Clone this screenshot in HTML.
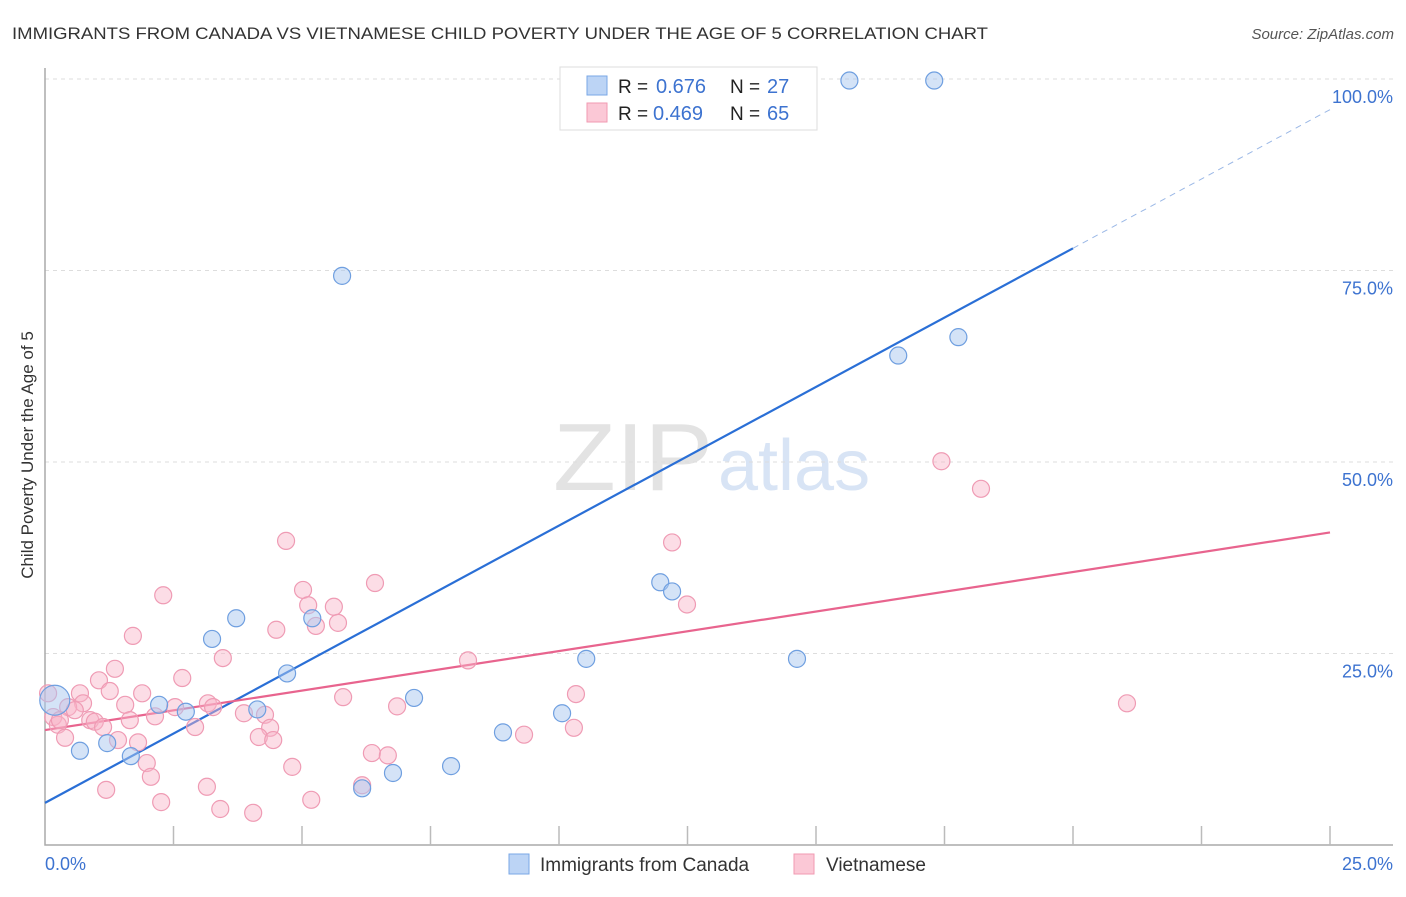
<!DOCTYPE html>
<html><head><meta charset="utf-8"><style>
body{margin:0;background:#fff;font-family:"Liberation Sans",sans-serif}
svg text{font-family:"Liberation Sans",sans-serif}
</style></head><body>
<svg id="chart" width="1406" height="892" viewBox="0 0 1406 892">
<text x="12" y="39" font-size="17" fill="#333" textLength="976" lengthAdjust="spacingAndGlyphs">IMMIGRANTS FROM CANADA VS VIETNAMESE CHILD POVERTY UNDER THE AGE OF 5 CORRELATION CHART</text>
<text x="1394" y="39" font-size="15" fill="#555" font-style="italic" text-anchor="end">Source: ZipAtlas.com</text>
<text transform="translate(33,455) rotate(-90)" font-size="17" fill="#333" text-anchor="middle">Child Poverty Under the Age of 5</text>
<g><text x="553" y="490" font-size="96" fill="#e3e3e3" font-family="Liberation Serif" textLength="160" lengthAdjust="spacingAndGlyphs">ZIP</text><text x="718" y="490" font-size="72" fill="#d8e4f5">atlas</text></g>
<g id="grid"></g><g id="axes"></g><g id="lines"></g><g id="pts"></g>
<g>
<rect x="560" y="67" width="257" height="63" fill="#fff" stroke="#ddd"/>
<rect x="587" y="76" width="20" height="19" fill="#bcd4f5" stroke="#7aa7e6"/>
<rect x="587" y="103" width="20" height="19" fill="#fbc8d6" stroke="#f09ab2"/>
<text x="618" y="93" font-size="19" fill="#222">R = </text><text x="656" y="93" font-size="20" fill="#3d73d0">0.676</text>
<text x="730" y="93" font-size="19" fill="#222">N = </text><text x="767" y="93" font-size="20" fill="#3d73d0">27</text>
<text x="618" y="120" font-size="19" fill="#222">R = </text><text x="653" y="120" font-size="20" fill="#3d73d0">0.469</text>
<text x="730" y="120" font-size="19" fill="#222">N = </text><text x="767" y="120" font-size="20" fill="#3d73d0">65</text>
</g>
<g>
<rect x="509" y="854" width="20" height="20" fill="#bcd4f5" stroke="#7aa7e6"/>
<text x="540" y="871" font-size="19" fill="#333">Immigrants from Canada</text>
<rect x="794" y="854" width="20" height="20" fill="#fbc8d6" stroke="#f09ab2"/>
<text x="826" y="871" font-size="19" fill="#333">Vietnamese</text>
</g>
</svg>
<script>
const yTicks=[25,50,75,100];
const yTickLabels=["25.0%","50.0%","75.0%","100.0%"];
const xTickLabels=["0.0%","25.0%"];
const canadaX=[0.19,0.68,1.21,1.67,2.22,2.74,3.25,3.72,4.13,4.71,5.20,5.78,6.17,6.77,7.18,7.90,8.91,10.06,10.53,11.97,12.20,13.31,14.63,15.65,16.60,17.30,17.77];
const canadaY=[18.9,12.3,13.3,11.6,18.3,17.4,26.9,29.6,17.7,22.4,29.6,74.3,7.4,9.4,19.2,10.3,14.7,17.2,24.3,34.3,33.1,99.8,24.3,99.8,63.9,99.8,66.3];
const vietX=[2.30,1.71,1.36,1.05,1.26,0.68,0.74,0.45,0.58,1.56,1.89,0.88,0.97,1.13,1.65,0.16,0.25,0.39,1.42,1.81,1.98,2.06,1.19,2.26,2.67,2.53,2.14,2.92,3.46,3.17,3.27,3.15,3.41,4.05,4.50,5.02,5.12,5.27,5.62,5.70,6.42,5.80,3.87,4.28,4.38,4.16,4.44,4.81,5.18,6.17,6.36,6.67,6.85,4.69,8.23,9.32,10.33,10.29,12.20,12.49,17.44,18.21,21.05,0.06,0.29];
const vietY=[32.6,27.3,23.0,21.5,20.1,19.8,18.5,18.0,17.6,18.3,19.8,16.3,16.1,15.4,16.3,16.7,15.7,14.0,13.7,13.4,10.7,8.9,7.2,5.6,21.8,18.0,16.8,15.4,24.4,18.5,18.0,7.6,4.7,4.2,28.1,33.3,31.3,28.6,31.1,29.0,34.2,19.3,17.2,17.0,15.3,14.1,13.7,10.2,5.9,7.8,12.0,11.7,18.1,39.7,24.1,14.4,19.7,15.3,39.5,31.4,50.1,46.5,18.5,19.8,16.3];
const canadaFit=[5.5,96.0];
const vietFit=[15.0,40.8];
const NS="http://www.w3.org/2000/svg";
const X0=45,X1=1330,Y0=845,Y100=79;
const sx=v=>X0+(v/25)*(X1-X0);
const sy=v=>Y0-(v/100)*(Y0-Y100);
function mk(p,t,a){const e=document.createElementNS(NS,t);for(const k in a)e.setAttribute(k,a[k]);document.getElementById(p).appendChild(e);return e;}
yTicks.forEach((t,i)=>{
 const g=mk('grid','line',{x1:X0,x2:1393,y1:sy(t),y2:sy(t),stroke:'#ddd','stroke-dasharray':'4,4'});
 
 
 const l=mk('grid','text',{x:1393,y:sy(t)+24,'font-size':18,fill:'#3d73d0','text-anchor':'end'});
 l.textContent=yTickLabels[i];
 
 
});
const ax=mk('axes','path',{d:`M${X0} 68V${Y0}H1393`,stroke:'#aaa','stroke-width':1.5,fill:'none'});


for(let i=1;i<=10;i++){const t=mk('axes','line',{x1:sx(i*2.5),x2:sx(i*2.5),y1:826,y2:Y0,stroke:'#bbb','stroke-width':1.5});
 
 }
const xl0=mk('axes','text',{x:X0,y:870,'font-size':18,fill:'#3d73d0'});xl0.textContent=xTickLabels[0];


const xl1=mk('axes','text',{x:1393,y:870,'font-size':18,fill:'#3d73d0','text-anchor':'end'});xl1.textContent=xTickLabels[1];


function pts(xs,ys,fill,stroke,name){xs.forEach((x,i)=>{const big=(name==='canada-point'&&i===0);
 const c=mk('pts','circle',{cx:sx(x),cy:sy(ys[i]),r:big?15:8.5,fill:fill,stroke:stroke,'stroke-width':1.2});
 
 });}
pts(vietX,vietY,'rgba(248,180,200,0.45)','#ef9bb4','vietnamese-point');
pts(canadaX,canadaY,'rgba(170,200,240,0.5)','#6f9fe0','canada-point');
const fy=(f,x)=>f[0]+(f[1]-f[0])*x/25;
const bl=mk('lines','line',{x1:sx(0),y1:sy(fy(canadaFit,0)),x2:sx(20),y2:sy(fy(canadaFit,20)),stroke:'#2a6fd6','stroke-width':2.2});


const bd=mk('lines','line',{x1:sx(20),y1:sy(fy(canadaFit,20)),x2:sx(25),y2:sy(fy(canadaFit,25)),stroke:'#9bb8e6','stroke-width':1,'stroke-dasharray':'6,5'});


const pl=mk('lines','line',{x1:sx(0),y1:sy(vietFit[0]),x2:sx(25),y2:sy(vietFit[1]),stroke:'#e8648e','stroke-width':2.2});


</script>
</body></html>
